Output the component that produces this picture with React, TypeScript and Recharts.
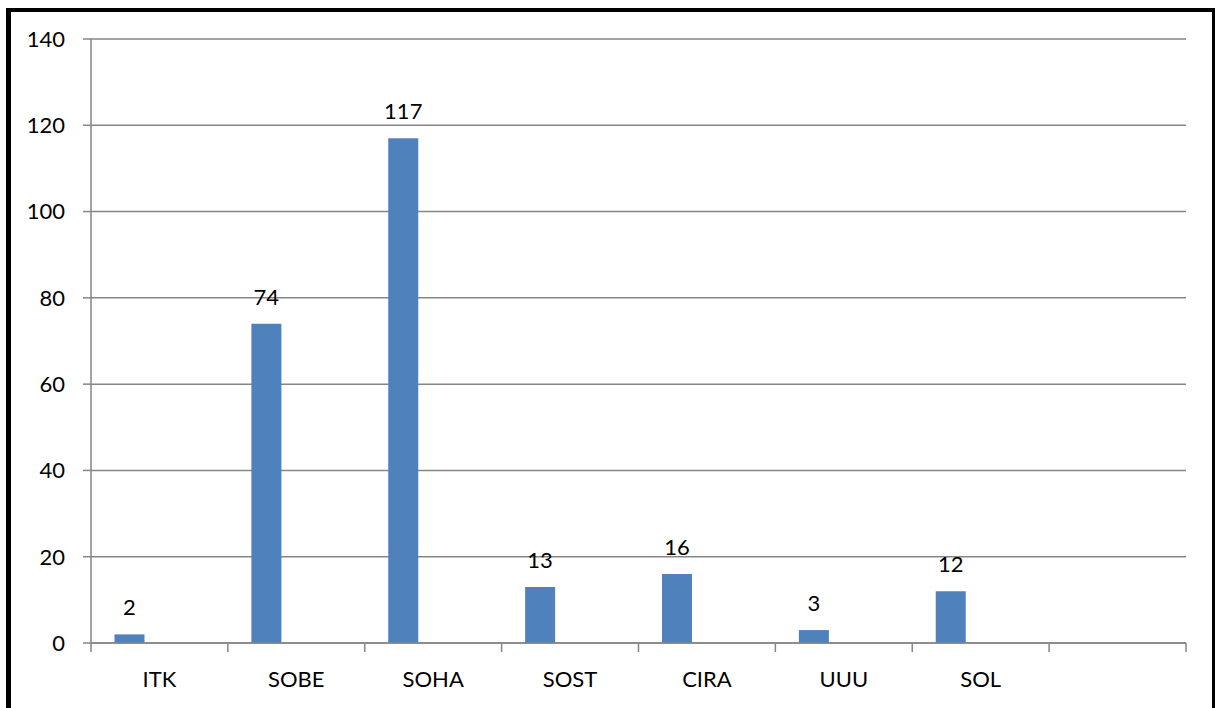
import { BarChart, Bar, XAxis, YAxis, CartesianGrid, LabelList } from "recharts"

const categories = ["ITK", "SOBE", "SOHA", "SOST", "CIRA", "UUU", "SOL", ""]
const countValues: (number | null)[] = [2, 74, 117, 13, 16, 3, 12, null]
const emptySeriesB: (number | null)[] = [null, null, null, null, null, null, null, null]
const emptySeriesC: (number | null)[] = [null, null, null, null, null, null, null, null]
const yTicks = [0, 20, 40, 60, 80, 100, 120, 140]

const W = 1215
const H = 708
const M = { top: 39, right: 29, bottom: 15, left: 0 }
const Y_AXIS_W = 91
const X_AXIS_H = 50
const BAND = (W - M.left - M.right - Y_AXIS_W) / categories.length

const GRAY = "#868686"
const BAR = "#4f81bd"
const FONT = "Lato, 'Open Sans', sans-serif"

const data = categories.map((c, i) => ({
  name: c,
  v: countValues[i],
  b: emptySeriesB[i],
  c: emptySeriesC[i],
}))

function CatTick({ x, y, payload, index }: any) {
  const left = x - BAND / 2
  const right = x + BAND / 2
  return (
    <g>
      <line x1={left} x2={left} y1={y} y2={y + 9} stroke={GRAY} strokeWidth={1.5} />
      {index === categories.length - 1 && (
        <line x1={right} x2={right} y1={y} y2={y + 9} stroke={GRAY} strokeWidth={1.5} />
      )}
      <text x={x} y={y + 44} textAnchor="middle" fill="#000" fontSize={22} fontFamily={FONT}>
        {payload.value}
      </text>
    </g>
  )
}

export default function App() {
  return (
    <div style={{ position: "absolute", left: 0, top: 0, width: W, height: H, background: "#fff", overflow: "hidden" }}>
      {/* outer frame */}
      <div
        style={{
          position: "absolute", left: 6, top: 8, width: 1210, height: 730,
          borderStyle: "solid", borderColor: "#000",
          borderWidth: "4px 4px 4px 5px", boxSizing: "border-box",
        }}
      />
      <div style={{ position: "absolute", left: 0, top: 0 }}>
        <BarChart width={W} height={H} data={data} margin={M} barCategoryGap={23.5} barGap={0}>
          <CartesianGrid vertical={false} stroke={GRAY} strokeWidth={1.5} />
          <XAxis
            dataKey="name"
            height={X_AXIS_H}
            interval={0}
            tickSize={0}
            tickMargin={0}
            tickLine={false}
            axisLine={{ stroke: GRAY, strokeWidth: 1.5 }}
            tick={<CatTick />}
          />
          <YAxis
            width={Y_AXIS_W}
            domain={[0, 140]}
            ticks={yTicks}
            interval={0}
            tickSize={8}
            tickMargin={18}
            axisLine={{ stroke: GRAY, strokeWidth: 1.5 }}
            tickLine={{ stroke: GRAY, strokeWidth: 1.5 }}
            tick={{ fill: "#000", fontSize: 22, fontFamily: FONT }}
          />
          <Bar dataKey="v" fill={BAR} isAnimationActive={false}>
            <LabelList dataKey="v" position="top" offset={19} fill="#000" fontSize={22} fontFamily={FONT} />
          </Bar>
          <Bar dataKey="b" fill={BAR} isAnimationActive={false} />
          <Bar dataKey="c" fill={BAR} isAnimationActive={false} />
        </BarChart>
      </div>
    </div>
  )
}
